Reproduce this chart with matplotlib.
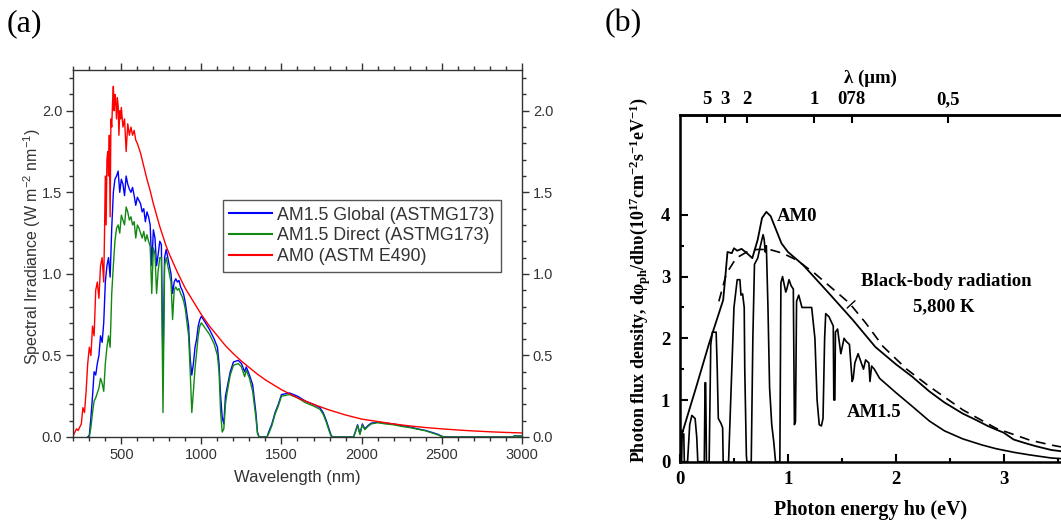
import numpy as np
import matplotlib
matplotlib.use("Agg")
import matplotlib.pyplot as plt
from matplotlib.ticker import MultipleLocator, FixedLocator, FormatStrFormatter

plt.rcParams["mathtext.default"] = "regular"

# ---------------- panel (a): spectral irradiance vs wavelength ----------------
am0_wl = [200, 210, 220, 230, 240, 250, 260, 270, 280, 290, 300, 310, 320, 330, 340,
          350, 360, 370, 380, 390, 395, 400, 405, 410, 415, 420, 425, 430, 435, 440,
          445, 450, 455, 460, 465, 470, 475, 480, 485, 490, 495, 500, 510, 520, 530,
          540, 550, 560, 570, 580, 590, 600, 620, 640, 660, 680, 700, 720, 740, 760,
          780, 800, 850, 900, 950, 1000, 1050, 1100, 1150, 1200, 1250, 1300, 1350,
          1400, 1450, 1500, 1600, 1700, 1800, 1900, 2000, 2100, 2200, 2300, 2400,
          2500, 2600, 2700, 2800, 2900, 3000]
am0_val = [0.01, 0.03, 0.05, 0.04, 0.06, 0.08, 0.18, 0.15, 0.28, 0.45, 0.55, 0.50,
           0.68, 0.62, 0.90, 0.95, 0.85, 1.05, 1.10, 0.95, 1.25, 1.60, 1.30, 1.70,
           1.75, 1.60, 1.85, 1.35, 1.95, 1.90, 2.05, 2.15, 2.00, 2.10, 2.05, 1.95,
           2.08, 2.03, 1.85, 2.00, 1.95, 2.02, 1.90, 1.95, 1.75, 1.92, 1.85, 1.90,
           1.85, 1.88, 1.82, 1.80, 1.74, 1.66, 1.58, 1.51, 1.43, 1.36, 1.29, 1.23,
           1.17, 1.12, 1.01, 0.91, 0.83, 0.75, 0.68, 0.62, 0.56, 0.51, 0.465, 0.425,
           0.385, 0.35, 0.32, 0.29, 0.24, 0.20, 0.165, 0.135, 0.11, 0.095, 0.08,
           0.068, 0.058, 0.05, 0.043, 0.037, 0.032, 0.028, 0.025]

glob_wl = [290, 300, 310, 320, 330, 340, 350, 360, 370, 380, 390, 400, 410, 420, 430,
           440, 450, 460, 470, 480, 490, 500, 510, 520, 530, 540, 550, 560, 570, 580,
           590, 600, 610, 620, 630, 640, 650, 660, 670, 680, 690, 700, 710, 720, 730,
           740, 750, 760, 770, 780, 790, 800, 810, 820, 830, 840, 850, 860, 870, 880,
           890, 900, 910, 920, 930, 940, 950, 960, 970, 980, 990, 1000, 1050, 1080,
           1100, 1110, 1120, 1130, 1140, 1150, 1160, 1180, 1200, 1230, 1250, 1270,
           1280, 1300, 1320, 1340, 1350, 1360, 1410, 1420, 1440, 1460, 1480, 1500,
           1550, 1600, 1650, 1700, 1740, 1760, 1780, 1800, 1810, 1820, 1950, 1960,
           1975, 1990, 2005, 2020, 2040, 2060, 2100, 2150, 2200, 2250, 2300, 2350,
           2400, 2450, 2480, 2500, 2520, 2940, 2960, 3000]
glob_val = [0.0, 0.01, 0.12, 0.25, 0.40, 0.38, 0.45, 0.50, 0.62, 0.58, 0.70, 0.95,
            1.05, 1.10, 0.98, 1.28, 1.50, 1.58, 1.60, 1.63, 1.50, 1.58, 1.55, 1.48,
            1.60, 1.55, 1.52, 1.50, 1.53, 1.48, 1.42, 1.47, 1.45, 1.43, 1.38, 1.40,
            1.32, 1.38, 1.35, 1.30, 1.05, 1.27, 1.22, 1.05, 1.12, 1.20, 1.18, 0.40,
            1.10, 1.15, 1.10, 1.05, 1.00, 0.88, 0.95, 0.97, 0.95, 0.96, 0.92, 0.90,
            0.87, 0.82, 0.75, 0.68, 0.48, 0.38, 0.45, 0.55, 0.60, 0.68, 0.72, 0.74,
            0.66, 0.60, 0.55, 0.45, 0.25, 0.12, 0.08, 0.25, 0.30, 0.40, 0.46, 0.47,
            0.45, 0.40, 0.43, 0.38, 0.32, 0.15, 0.03, 0.0, 0.0, 0.03, 0.08, 0.15,
            0.20, 0.26, 0.27, 0.25, 0.22, 0.20, 0.18, 0.15, 0.10, 0.04, 0.01, 0.0,
            0.0, 0.03, 0.075, 0.02, 0.08, 0.05, 0.07, 0.085, 0.09, 0.085, 0.08, 0.07,
            0.062, 0.05, 0.04, 0.025, 0.015, 0.005, 0.0, 0.0, 0.008, 0.005]

dir_wl = [300, 310, 320, 330, 340, 350, 360, 370, 380, 390, 400, 410, 420, 430, 440,
          450, 460, 470, 480, 490, 500, 510, 520, 530, 540, 550, 560, 570, 580, 590,
          600, 610, 620, 630, 640, 650, 660, 670, 680, 690, 700, 710, 720, 730, 740,
          750, 760, 770, 780, 790, 800, 810, 820, 830, 840, 850, 860, 870, 880, 890,
          900, 910, 920, 930, 940, 950, 960, 970, 980, 990, 1000, 1050, 1080, 1100,
          1110, 1120, 1130, 1140, 1150, 1160, 1180, 1200, 1230, 1250, 1270, 1280,
          1300, 1320, 1340, 1350, 1360, 1410, 1420, 1440, 1460, 1480, 1500, 1550,
          1600, 1650, 1700, 1740, 1760, 1780, 1800, 1810, 1820, 1950, 1960, 1975,
          1990, 2005, 2020, 2040, 2060, 2100, 2150, 2200, 2250, 2300, 2350, 2400,
          2450, 2480, 2500, 2520, 2940, 2960, 3000]
dir_val = [0.0, 0.06, 0.15, 0.22, 0.24, 0.27, 0.30, 0.36, 0.33, 0.28, 0.45, 0.55,
           0.62, 0.55, 0.88, 1.05, 1.20, 1.28, 1.30, 1.25, 1.36, 1.33, 1.30, 1.41,
           1.38, 1.33, 1.35, 1.30, 1.32, 1.22, 1.30, 1.28, 1.25, 1.22, 1.26, 1.20,
           1.24, 1.20, 1.17, 0.88, 1.16, 1.12, 0.88, 1.02, 1.10, 1.10, 0.15, 1.05,
           1.10, 1.05, 1.00, 0.95, 0.72, 0.90, 0.92, 0.90, 0.91, 0.88, 0.86, 0.83,
           0.78, 0.70, 0.62, 0.40, 0.15, 0.28, 0.42, 0.52, 0.62, 0.68, 0.70, 0.63,
           0.57, 0.50, 0.40, 0.15, 0.03, 0.05, 0.20, 0.27, 0.38, 0.44, 0.45, 0.43,
           0.37, 0.41, 0.36, 0.28, 0.12, 0.02, 0.0, 0.0, 0.02, 0.07, 0.14, 0.19,
           0.25, 0.26, 0.24, 0.21, 0.19, 0.17, 0.14, 0.09, 0.03, 0.005, 0.0, 0.0,
           0.025, 0.07, 0.015, 0.075, 0.045, 0.065, 0.08, 0.088, 0.08, 0.075, 0.065,
           0.058, 0.048, 0.038, 0.022, 0.012, 0.003, 0.0, 0.0, 0.007, 0.004]

legend_labels = ["AM1.5 Global (ASTMG173)", "AM1.5 Direct (ASTMG173)", "AM0 (ASTM E490)"]

# ---------------- panel (b): photon flux vs photon energy ----------------
b_am0_e = [0.0, 0.02, 0.15, 0.27, 0.35, 0.40, 0.42, 0.44, 0.48, 0.50, 0.53, 0.57,
           0.62, 0.67, 0.72, 0.76, 0.80, 0.84, 0.89, 0.94, 1.00, 1.14, 1.38, 1.60,
           1.81, 2.00, 2.15, 2.31, 2.45, 2.62, 2.75, 2.85, 2.93, 3.00, 3.09, 3.20,
           3.30, 3.44, 3.53]
b_am0_v = [0.2, 0.46, 1.21, 1.92, 2.35, 2.62, 3.0, 3.40, 3.38, 3.46, 3.42, 3.45,
           3.38, 3.30, 3.6, 3.95, 4.05, 3.98, 3.76, 3.54, 3.40, 3.19, 2.73, 2.30,
           1.86, 1.58, 1.38, 1.14, 0.96, 0.78, 0.67, 0.58, 0.52, 0.47, 0.36, 0.30,
           0.25, 0.19, 0.17]

bb_e = [0.36, 0.43, 0.52, 0.62, 0.71, 0.83, 0.95, 1.08, 1.25, 1.39, 1.57, 1.72,
        1.88, 2.10, 2.31, 2.62, 2.93, 3.24, 3.44, 3.53]
bb_v = [2.6, 3.05, 3.3, 3.40, 3.44, 3.44, 3.38, 3.27, 3.05, 2.84, 2.57, 2.25,
        1.87, 1.50, 1.22, 0.84, 0.54, 0.35, 0.27, 0.24]

am15_e = [0.0, 0.015, 0.02, 0.035, 0.04, 0.07, 0.09, 0.11, 0.14, 0.155, 0.165,
          0.225, 0.232, 0.238, 0.245, 0.27, 0.285, 0.30, 0.335, 0.345, 0.355, 0.38,
          0.395, 0.40, 0.45, 0.47, 0.50, 0.53, 0.555, 0.565, 0.58, 0.595, 0.60,
          0.615, 0.62, 0.66, 0.675, 0.69, 0.72, 0.745, 0.77, 0.78, 0.79, 0.80,
          0.815, 0.83, 0.85, 0.87, 0.885, 0.925, 0.935, 0.95, 0.98, 0.99, 1.01,
          1.03, 1.05, 1.06, 1.07, 1.08, 1.10, 1.13, 1.22, 1.25, 1.27, 1.29, 1.31,
          1.325, 1.34, 1.35, 1.38, 1.42, 1.425, 1.435, 1.44, 1.46, 1.49, 1.52,
          1.54, 1.57, 1.595, 1.605, 1.62, 1.65, 1.68, 1.70, 1.72, 1.75, 1.76,
          1.775, 1.80, 1.85, 2.0, 2.15, 2.31, 2.45, 2.62, 2.80, 2.93, 3.10, 3.24,
          3.44, 3.53]
am15_v = [0.0, 0.0, 0.45, 0.45, 0.0, 0.0, 0.6, 0.75, 0.7, 0.4, 0.0,
          0.0, 1.28, 1.28, 0.0, 0.0, 1.9, 2.1, 2.1, 1.5, 0.7, 0.62,
          0.55, 0.0, 0.0, 1.0, 2.5, 2.95, 2.95, 2.7, 2.72, 2.5, 1.5,
          0.1, 0.0, 0.0, 2.0, 3.2, 3.3, 3.5, 3.68, 3.6, 3.4, 3.5,
          2.5, 1.2, 0.6, 0.3, 0.0, 0.0, 2.9, 3.0, 2.75, 2.8, 2.95,
          2.85, 2.8, 0.6, 0.65, 2.6, 2.7, 2.5, 2.5, 2.0, 1.0, 0.6, 0.58,
          0.7, 2.0, 2.4, 2.35, 2.2, 1.0, 1.0, 2.1, 2.15, 1.75, 2.0,
          1.95, 1.9, 1.3, 1.35, 1.6, 1.75, 1.6, 1.5, 1.65, 1.6, 1.3,
          1.55, 1.5, 1.35, 1.12, 0.9, 0.66, 0.50, 0.37, 0.27, 0.21, 0.15, 0.11,
          0.06, 0.05]

lam_ticks = [5, 3, 2, 1, 0.78, 0.5]
lam_labels = ["5", "3", "2", "1", "078", "0,5"]

# ---------------- figure ----------------
W, H = 1061, 531
fig = plt.figure(figsize=(W / 100, H / 100), dpi=100)

def frac(x0, y0, x1, y1):
    return [x0 / W, 1 - y1 / H, (x1 - x0) / W, (y1 - y0) / H]

sans = "Liberation Sans"
serif = "Liberation Serif"
grey = "#333333"

ax1 = fig.add_axes(frac(73.3, 70, 521.7, 437))
ax1.plot(glob_wl, glob_val, color="#0000ff", lw=1.0, label=legend_labels[0])
ax1.plot(dir_wl, dir_val, color="#118811", lw=1.0, label=legend_labels[1])
ax1.plot(am0_wl, am0_val, color="#ff0000", lw=1.0, label=legend_labels[2])
ax1.set_xlim(200, 3000)
ax1.set_ylim(0, 2.25)
ax1.xaxis.set_major_locator(MultipleLocator(500))
ax1.xaxis.set_minor_locator(MultipleLocator(100))
ax1.yaxis.set_major_locator(MultipleLocator(0.5))
ax1.yaxis.set_minor_locator(MultipleLocator(0.1))
ax1.yaxis.set_major_formatter(FormatStrFormatter("%.1f"))
ax1.tick_params(which="both", direction="out", top=True, right=True,
                labelright=True, color=grey, labelcolor=grey, width=1.0)
ax1.tick_params(which="major", length=5, labelsize=10.5, pad=3)
ax1.tick_params(which="minor", length=3)
for lab in ax1.get_xticklabels() + ax1.get_yticklabels():
    lab.set_fontfamily(sans)
for t in ax1.yaxis.get_major_ticks():
    t.label2.set_fontfamily(sans)
for s in ax1.spines.values():
    s.set_color(grey)
    s.set_linewidth(1.0)
ax1.set_xlabel("Wavelength (nm)", family=sans, size=12, color=grey, labelpad=6)
ax1.set_ylabel("Spectral Irradiance (W m$^{-2}$ nm$^{-1}$)", family=sans, size=11.5,
               color=grey)
ax1.yaxis.set_label_coords(-0.068, 0.52)
leg = ax1.legend(loc="upper left", bbox_to_anchor=(0.333, 0.645), borderaxespad=0,
                 prop={"family": sans, "size": 12.8}, handlelength=2.4,
                 handletextpad=0.3, labelspacing=0.22, fancybox=False,
                 framealpha=1, borderpad=0.35)
leg.get_frame().set_edgecolor("#555555")
leg.get_frame().set_linewidth(1.0)
for txt in leg.get_texts():
    txt.set_color(grey)
for line in leg.get_lines():
    line.set_linewidth(1.5)

# panel (b)
ax2 = fig.add_axes(frac(680, 115, 1061, 461.7))
ax2.plot(b_am0_e, b_am0_v, color="black", lw=1.3)
ax2.plot(bb_e, bb_v, color="black", lw=1.2, dashes=(6, 4))
ax2.plot(am15_e, am15_v, color="black", lw=1.2)
ax2.set_xlim(0, 3.53)
ax2.set_ylim(0, 5.62)
ax2.xaxis.set_major_locator(MultipleLocator(1))
ax2.xaxis.set_minor_locator(MultipleLocator(0.5))
ax2.yaxis.set_major_locator(FixedLocator([0, 1, 2, 3, 4]))
ax2.yaxis.set_minor_locator(FixedLocator([0.5, 1.5, 2.5, 3.5]))
ax2.spines["right"].set_visible(False)
for s in ["left", "bottom", "top"]:
    ax2.spines[s].set_linewidth(1.8)
ax2.tick_params(which="both", direction="in", width=1.5, right=False, top=False)
ax2.tick_params(which="major", length=6, labelsize=13.5, pad=7)
ax2.tick_params(which="minor", length=3)
for lab in ax2.get_xticklabels() + ax2.get_yticklabels():
    lab.set_fontfamily(serif)
    lab.set_fontweight("bold")
ax2.set_xlabel("Photon energy hυ (eV)", family=serif, weight="bold", size=14.5,
               labelpad=8)
ax2.set_ylabel("Photon flux density, dφ$_{ph}$/dhυ(10$^{17}$cm$^{-2}$s$^{-1}$eV$^{-1}$)",
               family=serif, weight="bold", size=13)
ax2.yaxis.set_label_coords(-0.07, 0.525)

top = ax2.twiny()
top.set_xlim(ax2.get_xlim())
top.set_xticks([1.24 / l for l in lam_ticks])
top.set_xticklabels(lam_labels, family=serif, weight="bold", size=13.5)
top.tick_params(direction="in", length=6, width=1.5, pad=5)
top.spines["right"].set_visible(False)
top.spines["top"].set_linewidth(1.8)
top.set_xlabel("λ (μm)", family=serif, weight="bold", size=13.5, labelpad=6)

ax2.text(0.90, 3.97, "AM0", family=serif, weight="bold", size=13.5, va="center")
ax2.text(1.80, 0.79, "AM1.5", family=serif, weight="bold", size=13.5,
         va="center", ha="center")
ax2.text(2.47, 2.92, "Black-body radiation", family=serif, weight="bold",
         size=13.5, va="center", ha="center")
ax2.text(2.44, 2.52, "5,800 K", family=serif, weight="bold", size=13.5,
         va="center", ha="center")
ax2.annotate("", xy=(1.53, 2.46), xytext=(1.64, 2.64),
             arrowprops=dict(arrowstyle="-", lw=1.0, color="black"))

fig.text(7 / W, 1 - 24 / H, "(a)", family=serif, size=23, va="center")
fig.text(605 / W, 1 - 24 / H, "(b)", family=serif, size=23, va="center")

fig.savefig("out.png", dpi=100)
